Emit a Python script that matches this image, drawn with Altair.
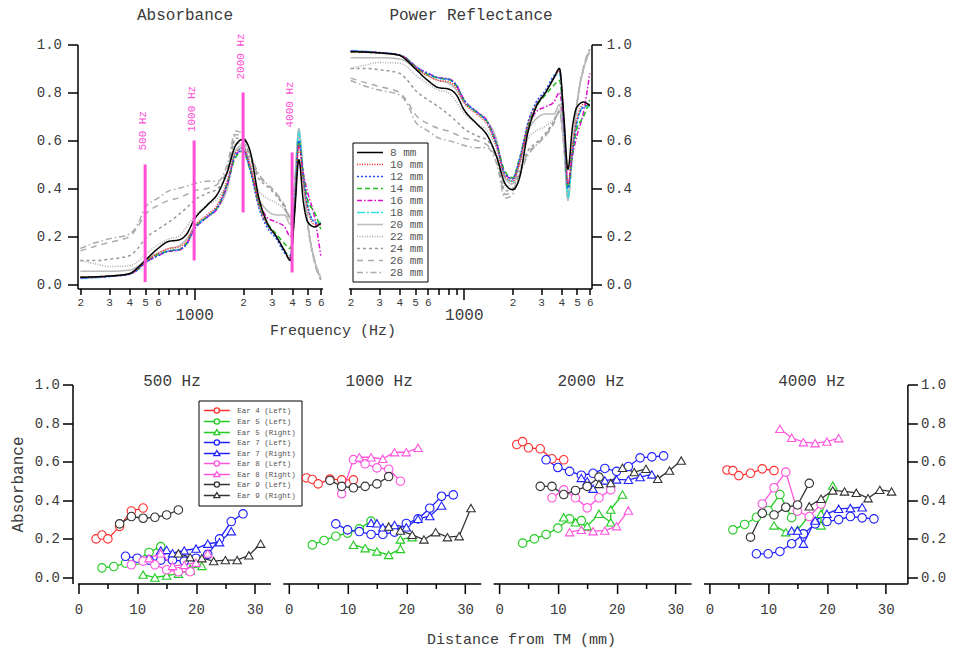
import altair as alt
import pandas as pd

FONT = "Liberation Mono"
PINK = "#ff4fd6"
TXT = "#3a3a3a"

# ------------------------------------------------------------------ top panels
freq_hz = [200, 250, 300, 400, 450, 500, 600, 700, 800, 900, 1000, 1200, 1400, 1600,
           1800, 2000, 2200, 2500, 2800, 3200, 3600, 3900, 4150, 4400, 4700, 5000, 5500, 6000]

distances = ["\u00a08 mm", "10 mm", "12 mm", "14 mm", "16 mm", "18 mm",
             "20 mm", "22 mm", "24 mm", "26 mm", "28 mm"]
curve_colors = ["#000000", "#ff2020", "#2050ff", "#22bb22", "#dd10cc", "#33dddd",
                "#bbbbbb", "#aaaaaa", "#999999", "#aaaaaa", "#aaaaaa"]
curve_dashes = [[1, 0], [1, 1.5], [2, 2], [5, 3], [5, 2, 1.5, 2], [8, 2, 2, 2],
                [1, 0], [1, 1.5], [3, 3], [6, 5], [6, 3, 1.5, 3]]

absorb_08 = [.030, .032, .035, .045, .070, .100, .150, .180, .185, .210, .270, .330, .380, .470, .580, .605, .560, .360, .260, .200, .140, .100, .300, .520, .340, .260, .240, .255]
absorb_10 = [.030, .032, .035, .045, .065, .095, .130, .150, .155, .180, .240, .290, .335, .430, .550, .570, .500, .330, .250, .200, .140, .110, .310, .580, .420, .310, .250, .250]
absorb_12 = [.028, .030, .033, .043, .062, .090, .120, .140, .145, .170, .230, .280, .325, .420, .540, .560, .480, .320, .240, .190, .130, .110, .320, .600, .440, .320, .260, .250]
absorb_14 = [.030, .032, .035, .045, .063, .092, .125, .140, .145, .172, .232, .282, .325, .420, .530, .555, .480, .340, .260, .210, .170, .150, .330, .600, .450, .350, .300, .230]
absorb_16 = [.028, .030, .034, .044, .062, .090, .120, .138, .142, .168, .228, .280, .320, .415, .540, .560, .490, .350, .280, .260, .240, .200, .350, .580, .460, .380, .280, .120]
absorb_18 = [.025, .028, .033, .044, .062, .090, .122, .140, .145, .170, .232, .284, .326, .420, .550, .570, .490, .330, .250, .200, .140, .120, .350, .640, .450, .330, .260, .260]
absorb_20 = [.055, .055, .055, .060, .075, .100, .130, .150, .160, .190, .240, .280, .320, .400, .560, .580, .500, .360, .310, .290, .290, .250, .420, .650, .430, .250, .100, .030]
absorb_22 = [.100, .085, .075, .078, .095, .125, .165, .190, .200, .240, .285, .330, .360, .440, .590, .580, .510, .390, .360, .340, .310, .270, .420, .620, .420, .250, .100, .020]
absorb_24 = [.100, .100, .105, .120, .150, .190, .230, .260, .290, .320, .350, .380, .400, .470, .610, .600, .530, .440, .410, .370, .320, .280, .420, .630, .430, .250, .100, .020]
absorb_26 = [.140, .160, .175, .200, .240, .290, .330, .350, .360, .375, .390, .400, .420, .480, .625, .610, .540, .450, .420, .380, .330, .280, .420, .640, .450, .250, .090, .020]
absorb_28 = [.150, .175, .190, .210, .250, .320, .360, .390, .400, .410, .420, .430, .430, .500, .640, .625, .550, .460, .420, .380, .320, .280, .400, .630, .450, .250, .100, .030]

refl_08 = [.970, .968, .965, .955, .930, .900, .850, .820, .815, .790, .730, .670, .620, .530, .420, .395, .440, .640, .740, .800, .860, .900, .700, .480, .660, .740, .760, .745]
refl_10 = [.970, .968, .965, .955, .935, .905, .870, .850, .845, .820, .760, .710, .665, .570, .450, .430, .500, .670, .750, .800, .860, .890, .690, .420, .580, .690, .750, .750]
refl_12 = [.972, .970, .967, .957, .938, .910, .880, .860, .855, .830, .770, .720, .675, .580, .460, .440, .520, .680, .760, .810, .870, .890, .680, .400, .560, .680, .740, .750]
refl_14 = [.970, .968, .965, .955, .937, .908, .875, .860, .855, .828, .768, .718, .675, .580, .470, .445, .520, .660, .740, .790, .830, .850, .670, .400, .550, .650, .700, .770]
refl_16 = [.972, .970, .966, .956, .938, .910, .880, .862, .858, .832, .772, .720, .680, .585, .460, .440, .510, .650, .720, .740, .760, .800, .650, .420, .540, .620, .720, .880]
refl_18 = [.975, .972, .967, .956, .938, .910, .878, .860, .855, .830, .768, .716, .674, .580, .450, .430, .510, .670, .750, .800, .860, .880, .650, .360, .550, .670, .740, .740]
refl_20 = [.945, .945, .945, .940, .925, .900, .870, .850, .840, .810, .760, .720, .680, .600, .440, .420, .500, .640, .690, .710, .710, .750, .580, .350, .570, .750, .900, .970]
refl_22 = [.900, .915, .925, .922, .905, .875, .835, .810, .800, .760, .715, .670, .640, .560, .410, .420, .490, .610, .640, .660, .690, .730, .580, .380, .580, .750, .900, .980]
refl_24 = [.900, .900, .895, .880, .850, .810, .770, .740, .710, .680, .650, .620, .600, .530, .390, .400, .470, .560, .590, .630, .680, .720, .580, .370, .570, .750, .900, .980]
refl_26 = [.860, .840, .825, .800, .760, .710, .670, .650, .640, .625, .610, .600, .580, .520, .375, .390, .460, .550, .580, .620, .670, .720, .580, .360, .550, .750, .910, .980]
refl_28 = [.850, .825, .810, .790, .750, .680, .640, .610, .600, .590, .580, .570, .570, .500, .360, .375, .450, .540, .580, .620, .680, .720, .600, .370, .550, .750, .900, .970]

absorb_all = [absorb_08, absorb_10, absorb_12, absorb_14, absorb_16, absorb_18,
              absorb_20, absorb_22, absorb_24, absorb_26, absorb_28]
refl_all = [refl_08, refl_10, refl_12, refl_14, refl_16, refl_18,
            refl_20, refl_22, refl_24, refl_26, refl_28]

marker_freq = [500, 1000, 2000, 4000]
marker_lo = [0.01, 0.10, 0.30, 0.05]
marker_hi = [0.50, 0.60, 0.80, 0.55]
marker_text_y = [0.558, 0.635, 0.854, 0.654]
marker_text = ["500 Hz", "1000 Hz", "2000 Hz", "4000 Hz"]

log_ticks = [200, 300, 400, 500, 600, 700, 800, 900, 1000, 2000, 3000, 4000, 5000, 6000]
y_ticks = [0.0, 0.2, 0.4, 0.6, 0.8, 1.0]

# ------------------------------------------------------------------ bottom panels
bands = ["500 Hz", "1000 Hz", "2000 Hz", "4000 Hz"]
ears = ["Ear 4 (Left)", "Ear 5 (Left)", "Ear 5 (Right)", "Ear 7 (Left)", "Ear 7 (Right)",
        "Ear 8 (Left)", "Ear 8 (Right)", "Ear 9 (Left)", "Ear 9 (Right)"]
ear_colors = ["#ff3030", "#22cc22", "#22cc22", "#2020ff", "#2020ff",
              "#ff55dd", "#ff55dd", "#333333", "#333333"]
ear_shapes = ["circle", "circle", "triangle-up", "circle", "triangle-up",
              "circle", "triangle-up", "circle", "triangle-up"]

ear_pos = {
    "Ear 4 (Left)": [3, 4, 5, 7, 9, 11],
    "Ear 5 (Left)": [4, 6, 8, 10, 12, 14],
    "Ear 5 (Right)": [11, 13, 15, 17, 19, 19, 21],
    "Ear 7 (Left)": [8, 10, 12, 14, 16, 18, 20, 22, 24, 26, 28],
    "Ear 7 (Right)": [14, 15, 16, 18, 20, 22, 24, 26],
    "Ear 8 (Left)": [9, 11, 13, 15, 17, 19],
    "Ear 8 (Right)": [12, 14, 16, 18, 20, 22],
    "Ear 9 (Left)": [7, 9, 11, 13, 15, 17],
    "Ear 9 (Right)": [17, 19, 21, 23, 25, 27, 29, 31],
}

abs_500 = {
    "Ear 4 (Left)": [.20, .22, .20, .265, .345, .36],
    "Ear 5 (Left)": [.05, .057, .075, .09, .13, .16],
    "Ear 5 (Right)": [.015, .0, .01, .02, .035, .045, .06],
    "Ear 7 (Left)": [.11, .10, .09, .09, .09, .085, .10, .12, .20, .29, .33],
    "Ear 7 (Right)": [.14, .143, .126, .14, .15, .175, .183, .24],
    "Ear 8 (Left)": [.066, .085, .066, .04, .03, .03],
    "Ear 8 (Right)": [.10, .125, .06, .065, .077, .125],
    "Ear 9 (Left)": [.278, .316, .307, .312, .324, .35],
    "Ear 9 (Right)": [.125, .105, .10, .085, .09, .09, .115, .175],
}
abs_1000 = {
    "Ear 4 (Left)": [.516, .508, .485, .51, .506, .506],
    "Ear 5 (Left)": [.169, .192, .214, .23, .252, .292],
    "Ear 5 (Right)": [.169, .152, .135, .117, .148, .197, .209],
    "Ear 7 (Left)": [.278, .247, .238, .223, .223, .235, .28, .304, .359, .421, .428],
    "Ear 7 (Right)": [.283, .281, .26, .272, .26, .304, .318, .373],
    "Ear 8 (Left)": [.434, .611, .589, .568, .561, .499],
    "Ear 8 (Right)": [.623, .623, .615, .649, .649, .672],
    "Ear 9 (Left)": [.503, .472, .465, .472, .485, .523],
    "Ear 9 (Right)": [.264, .243, .221, .197, .235, .209, .214, .36],
}
abs_2000 = {
    "Ear 4 (Left)": [.689, .704, .672, .667, .615, .61],
    "Ear 5 (Left)": [.178, .20, .223, .256, .304, .295],
    "Ear 5 (Right)": [.312, .286, .266, .33, .286, .352, .43],
    "Ear 7 (Left)": [.61, .57, .55, .53, .54, .565, .55, .575, .62, .625, .63],
    "Ear 7 (Right)": [.516, .499, .46, .503, .508, .506, .52, .534],
    "Ear 8 (Left)": [.413, .454, .413, .361, .413, .454],
    "Ear 8 (Right)": [.235, .247, .24, .243, .266, .347],
    "Ear 9 (Left)": [.472, .472, .43, .451, .472, .52],
    "Ear 9 (Right)": [.485, .489, .568, .546, .563, .511, .554, .606],
}
abs_4000 = {
    "Ear 4 (Left)": [.557, .554, .528, .54, .563, .554],
    "Ear 5 (Left)": [.247, .275, .312, .347, .43, .31],
    "Ear 5 (Right)": [.27, .235, .247, .32, .27, .33, .476],
    "Ear 7 (Left)": [.123, .123, .135, .175, .226, .278, .29, .30, .316, .309, .304],
    "Ear 7 (Right)": [.243, .243, .175, .295, .33, .356, .36, .364],
    "Ear 8 (Left)": [.381, .465, .546, .344, .316, .38],
    "Ear 8 (Right)": [.77, .724, .701, .696, .704, .722],
    "Ear 9 (Left)": [.209, .333, .324, .364, .376, .488],
    "Ear 9 (Right)": [.369, .408, .451, .446, .439, .411, .454, .446],
}
band_values = [abs_500, abs_1000, abs_2000, abs_4000]
dist_ticks = [0, 5, 10, 15, 20, 25, 30]

# legend symbols: short line with the marker in the middle
CIRCLE_SYM = "M-3.25,0L-0.65,0M0.65,0L3.25,0M-0.65,0A0.65,0.65,0,1,1,0.65,0A0.65,0.65,0,1,1,-0.65,0Z"
TRI_SYM = "M-3.25,0L-0.45,0M0.45,0L3.25,0M0,-0.75L0.75,0.55L-0.75,0.55Z"
legend_syms = [CIRCLE_SYM if s == "circle" else TRI_SYM for s in ear_shapes]

# ------------------------------------------------------------------ tables
rows = []
for i in reversed(range(len(distances))):
    for f, a, r in zip(freq_hz, absorb_all[i], refl_all[i]):
        rows.append({"dist": distances[i], "f": f, "A": a, "R": r})
top_df = pd.DataFrame(rows)

mark_df = pd.DataFrame({"f": marker_freq, "lo": marker_lo, "hi": marker_hi,
                        "ty": marker_text_y, "label": marker_text})

brows = []
for band, vals in zip(bands, band_values):
    for ear in ears:
        for k, (d, v) in enumerate(zip(ear_pos[ear], vals[ear])):
            brows.append({"band": band, "ear": ear, "d": d, "v": v, "o": k})
bottom_df = pd.DataFrame(brows)

# ------------------------------------------------------------------ axes helpers
LOG_LABEL = ("datum.value == 1000 ? '1000' : ((datum.value >= 700 && datum.value <= 900) ? '' : "
             "(datum.value < 1000 ? format(datum.value / 100, 'd') : format(datum.value / 1000, 'd')))")


def log_axis(**kw):
    return alt.Axis(values=log_ticks, labelExpr=LOG_LABEL, labelOverlap=False, labelFlush=False,
                    tickSize={"condition": {"test": "datum.value == 1000", "value": 11}, "value": 6},
                    labelFontSize={"condition": {"test": "datum.value == 1000", "value": 16}, "value": 11},
                    labelPadding={"condition": {"test": "datum.value == 1000", "value": 7}, "value": 1.5},
                    **kw)


def top_y_axis(orient, **kw):
    return alt.Axis(orient=orient, values=y_ticks, format=".1f", tickSize=10, labelFontSize=14,
                    **kw)


color_top = alt.Scale(domain=distances, range=curve_colors)
dash_top = alt.Scale(domain=distances, range=curve_dashes)

# ---- top left: absorbance
x1 = alt.Scale(type="log", domain=[192, 6150], nice=False)
yT = alt.Scale(domain=[-0.0167, 1.0], nice=False, zero=False)
ax_x1 = log_axis(title="Frequency (Hz)", titleX=255, titleY=40.5, titleBaseline="middle",
                 titleAlign="center", titleFontSize=15)
ax_y1 = top_y_axis("left", labelPadding=6, title=None)

lines1 = alt.Chart(top_df).mark_line(interpolate="monotone", strokeWidth=1.5).encode(
    x=alt.X("f:Q", scale=x1, axis=ax_x1),
    y=alt.Y("A:Q", scale=yT, axis=ax_y1),
    color=alt.Color("dist:N", scale=color_top, legend=None, sort=None),
    strokeDash=alt.StrokeDash("dist:N", scale=dash_top, legend=None, sort=None),
)
rules1 = alt.Chart(mark_df).mark_rule(color=PINK, strokeWidth=3).encode(
    x=alt.X("f:Q", scale=x1, axis=ax_x1),
    y=alt.Y("lo:Q", scale=yT, axis=ax_y1),
    y2="hi:Q",
)
text1 = alt.Chart(mark_df).mark_text(angle=270, align="left", baseline="middle", dy=-2,
                                     font=FONT, fontSize=11, color=PINK).encode(
    x=alt.X("f:Q", scale=x1, axis=ax_x1),
    y=alt.Y("ty:Q", scale=yT, axis=ax_y1),
    text="label:N",
)
top1 = alt.layer(lines1, rules1, text1).properties(
    width=245, height=244,
    title=alt.TitleParams("Absorbance", font=FONT, fontSize=16, fontWeight="normal", color=TXT,
                          anchor="middle", dx=-15, offset=-2.2, baseline="alphabetic"))

# ---- top right: power reflectance
x2 = alt.Scale(type="log", domain=[194, 6150], nice=False)
ax_x2 = log_axis(title=None)
ax_y2 = top_y_axis("right", labelPadding=4.7, title=None)
top_legend = alt.Legend(orient="none", legendX=4, legendY=98, title=None,
                        symbolType="M-2.6,0L2.6,0", symbolSize=100, symbolStrokeWidth=1.6,
                        symbolOffset=7.5, labelOffset=14, labelFont=FONT, labelFontSize=11,
                        labelColor="#555555", strokeColor="black", fillColor="white",
                        padding=4, rowPadding=1)
lines2 = alt.Chart(top_df).mark_line(interpolate="monotone", strokeWidth=1.5).encode(
    x=alt.X("f:Q", scale=x2, axis=ax_x2),
    y=alt.Y("R:Q", scale=yT, axis=ax_y2),
    color=alt.Color("dist:N", scale=color_top, legend=top_legend, sort=None),
    strokeDash=alt.StrokeDash("dist:N", scale=dash_top, legend=top_legend, sort=None),
)
top2 = lines2.properties(
    width=243, height=244,
    title=alt.TitleParams("Power Reflectance", font=FONT, fontSize=16, fontWeight="normal",
                          color=TXT, anchor="middle", dx=1, offset=1.3, baseline="alphabetic"))

top_row = alt.hconcat(top1, top2, spacing=26, bounds="flush").resolve_scale(
    color="independent", strokeDash="independent")

# ---- bottom row
bottom_legend = alt.Legend(orient="none", legendX=121, legendY=16, title=None,
                           symbolSize=64, symbolStrokeWidth=1.3, symbolFillColor="white",
                           symbolOffset=8.35, labelOffset=15.5, labelFont=FONT, labelFontSize=7.5,
                           labelColor="#555555", strokeColor="black", fillColor="white",
                           padding=5, rowPadding=-1.6)
title_dx = [-2, -2.6, -1, 6.4]
title_off = [-24.4, -17.4, -17.4, -24.4]
panel_w = [193, 198, 198, 204]
panel_dom = [[-0.17, 32.68], [-1.02, 32.68], [-1.02, 32.68], [-1.02, 33.7]]


def bottom_panel(i):
    band = bands[i]
    data = bottom_df[bottom_df["band"] == band]
    xs = alt.Scale(domain=panel_dom[i], nice=False, zero=False)
    ys = alt.Scale(domain=[-0.031, 1.0], nice=False, zero=False)
    xkw = dict(values=dist_ticks, labelExpr="datum.value % 10 == 0 ? datum.label : ''",
               labelOverlap=False, labelFlush=False, labelFontSize=14, labelPadding=8.5,
               tickSize={"condition": {"test": "datum.value % 10 != 0", "value": 5}, "value": 10})
    if i == 2:
        xaxis = alt.Axis(title="Distance from TM (mm)", titleX=28, titleY=55,
                         titleBaseline="middle", titleAlign="center", titleFontSize=15, **xkw)
    else:
        xaxis = alt.Axis(title=None, **xkw)
    if i == 0:
        yaxis = alt.Axis(orient="left", offset=5, values=y_ticks, format=".1f", tickSize=10,
                         labelFontSize=14, labelPadding=3, title="Absorbance",
                         titleFontSize=16, titlePadding=8.5)
    elif i == 3:
        yaxis = alt.Axis(orient="right", values=y_ticks, format=".1f", tickSize=10,
                         labelFontSize=14, labelPadding=3, title=None)
    else:
        yaxis = None

    X = alt.X("d:Q", scale=xs, axis=xaxis)
    Y = alt.Y("v:Q", scale=ys, axis=yaxis)
    cscale = alt.Scale(domain=ears, range=ear_colors)
    base = alt.Chart(data)
    lines = base.mark_line(strokeWidth=1.3).encode(
        x=X, y=Y, color=alt.Color("ear:N", scale=cscale, legend=None),
        detail="ear:N", order="o:Q")
    pts = base.mark_point(filled=False, fill="white", size=72, strokeWidth=1.1, opacity=1).encode(
        x=X, y=Y, color=alt.Color("ear:N", scale=cscale, legend=None),
        shape=alt.Shape("ear:N", scale=alt.Scale(domain=ears, range=ear_shapes), legend=None))
    layers = [lines, pts]
    if i == 0:
        leg = base.transform_filter("datum.d > 1000").mark_point(
            filled=False, fill="white", strokeWidth=1.1, opacity=1).encode(
            x=X, y=Y,
            color=alt.Color("ear:N", scale=alt.Scale(domain=ears, range=ear_colors),
                            legend=bottom_legend),
            shape=alt.Shape("ear:N", scale=alt.Scale(domain=ears, range=legend_syms),
                            legend=bottom_legend))
        layers.append(leg)
    return alt.layer(*layers).resolve_scale(color="independent", shape="independent").properties(
        width=panel_w[i], height=199,
        title=alt.TitleParams(band, font=FONT, fontSize=16, fontWeight="normal", color=TXT,
                              anchor="middle", dx=title_dx[i], offset=title_off[i],
                              baseline="alphabetic"))


bottom_row = alt.hconcat(*[bottom_panel(i) for i in range(4)], spacing=12.3, bounds="flush")

chart = alt.vconcat(top_row, bottom_row, spacing=35).properties(
    padding={"left": 1.5, "top": -1.5, "right": 0, "bottom": 3}
).configure_view(stroke=None).configure_axis(
    domainColor="black", tickColor="black", domainWidth=1.5, tickWidth=1.5,
    labelFont=FONT, labelColor=TXT, titleFont=FONT, titleColor=TXT,
    titleFontWeight="normal", grid=False,
)

chart.save("out.html", embed_options={"renderer": "svg", "actions": False})
